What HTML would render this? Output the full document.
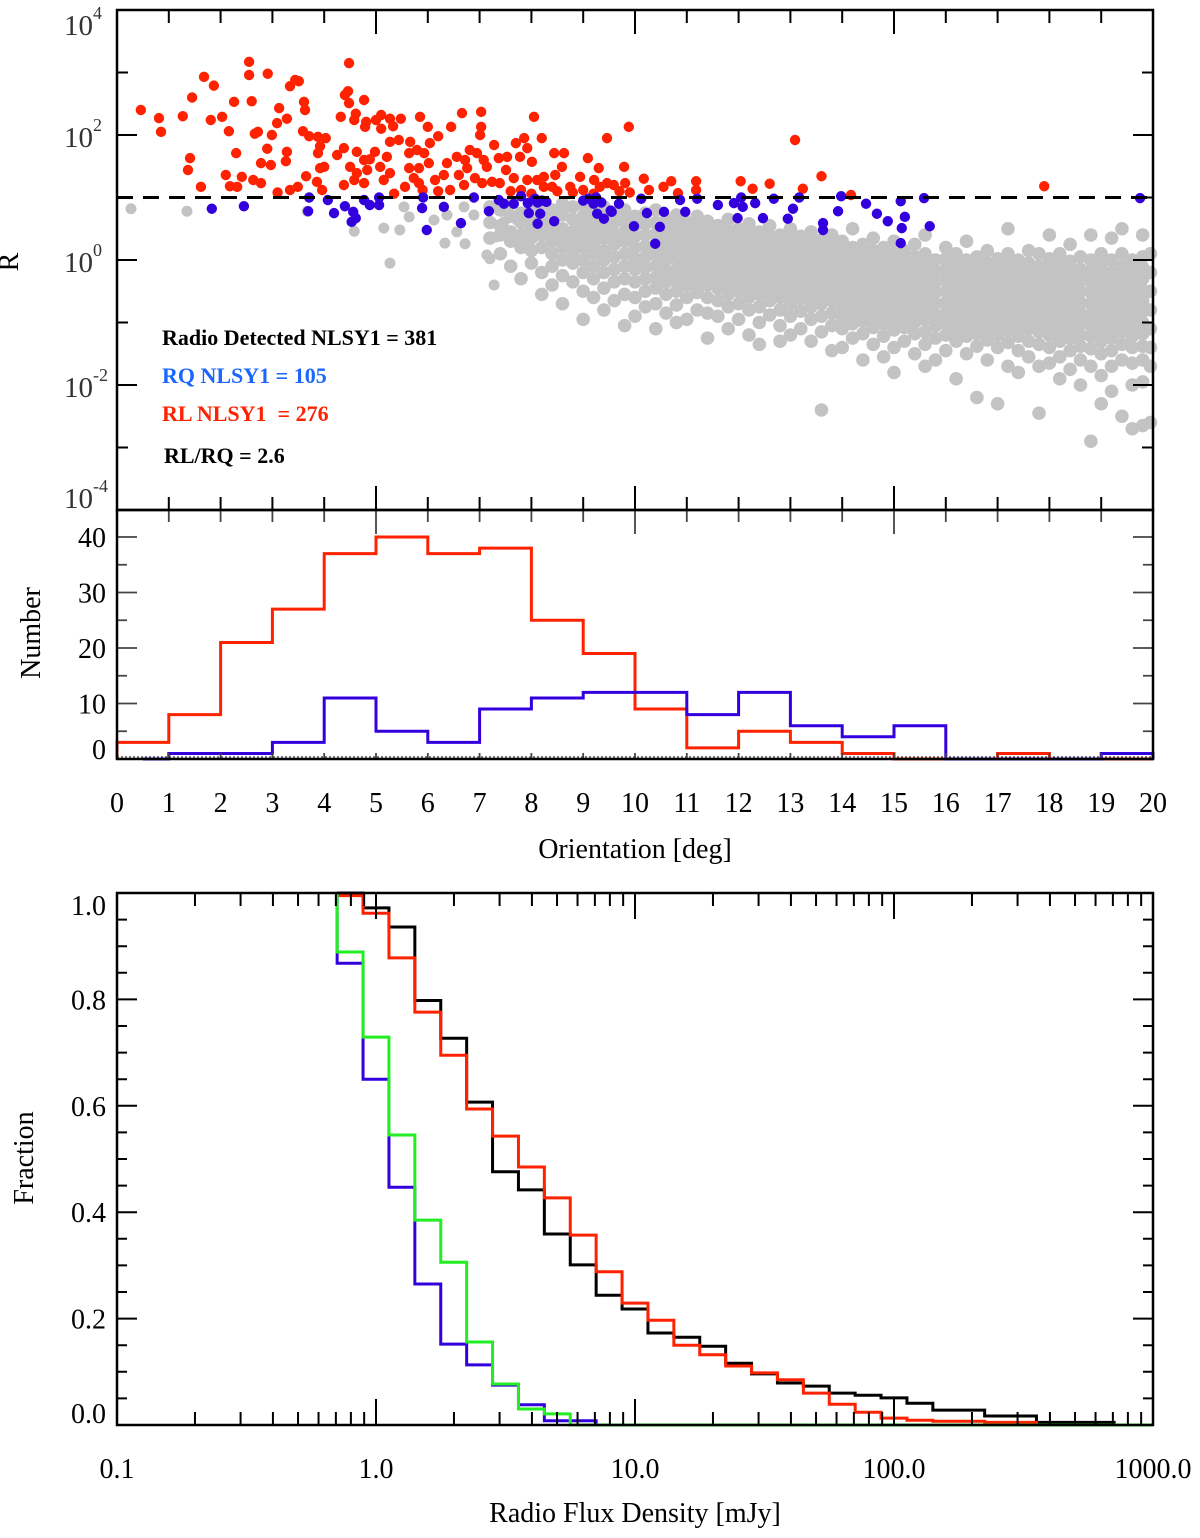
<!DOCTYPE html>
<html><head><meta charset="utf-8">
<style>
html,body{margin:0;padding:0;background:#fff;}
svg{display:block;font-family:"Liberation Serif",serif;}
</style></head>
<body>
<svg id="chart" width="1200" height="1538" viewBox="0 0 1200 1538" xmlns="http://www.w3.org/2000/svg">
<g id="topPanel"></g>
<g id="midPanel"></g>
<g id="botPanel"></g>
<text x="18" y="262" font-size="28" text-anchor="middle" transform="rotate(-90 18 262)">R</text>
<text x="40" y="633" font-size="28" text-anchor="middle" transform="rotate(-90 40 633)">Number</text>
<text x="635" y="858" font-size="28" text-anchor="middle">Orientation [deg]</text>
<text x="33" y="1158" font-size="28" text-anchor="middle" transform="rotate(-90 33 1158)">Fraction</text>
<text x="635" y="1522" font-size="28" text-anchor="middle">Radio Flux Density [mJy]</text>
<g font-weight="bold" font-size="22">
<text x="162" y="345" fill="#000">Radio Detected NLSY1 = 381</text>
<text x="162" y="383" fill="#1a66ff">RQ NLSY1 = 105</text>
<text x="162" y="421" fill="#ff2200" xml:space="preserve">RL NLSY1  = 276</text>
<text x="164" y="463" fill="#000">RL/RQ = 2.6</text>
</g>
</svg>
<script>
// ---------- data: top scatter (orientation deg, log10 R) ----------
const redPts = [[0.46,2.4],[0.81,2.27],[0.85,2.05],[1.27,2.3],[1.45,2.6],[1.68,2.93],[1.87,2.79],[1.81,2.24],[2.03,2.29],[2.16,2.06],[2.26,2.53],[1.41,1.63],[1.37,1.44],[1.62,1.17],[2.1,1.36],[2.18,1.18],[2.32,1.17],[2.3,1.71],[2.41,1.33],[2.55,3.17],[2.55,2.96],[2.6,2.54],[2.91,2.98],[2.63,1.28],[2.78,1.23],[2.78,1.55],[2.66,2.02],[2.72,2.05],[2.9,1.78],[2.97,1.52],[2.99,2.0],[3.09,2.19],[3.13,2.43],[3.28,2.26],[3.28,1.73],[3.26,1.58],[3.34,2.78],[3.44,2.88],[3.51,2.86],[3.61,2.53],[3.63,2.4],[3.59,2.06],[3.71,1.98],[3.34,1.12],[3.49,1.17],[3.65,1.34],[3.88,1.97],[4.03,1.95],[3.92,1.82],[3.88,1.71],[4.0,1.49],[3.92,1.47],[3.86,1.25],[3.96,1.12],[4.48,3.15],[4.46,2.7],[4.4,2.64],[4.48,2.51],[4.32,2.29],[4.58,2.24],[4.61,2.34],[4.77,2.56],[4.81,2.21],[4.79,2.13],[5.0,2.24],[5.1,2.32],[5.1,2.1],[5.27,2.26],[5.33,2.14],[5.48,2.26],[5.85,2.29],[6.0,2.13],[6.2,1.98],[6.04,1.87],[6.45,2.13],[6.66,2.35],[7.03,2.37],[7.03,2.13],[7.01,2.0],[7.28,1.84],[8.05,2.29],[7.86,1.95],[7.7,1.87],[8.2,1.95],[9.46,1.95],[9.88,2.13],[4.38,1.79],[4.25,1.68],[4.63,1.73],[4.77,1.6],[4.88,1.61],[4.98,1.73],[4.5,1.49],[4.63,1.39],[4.83,1.44],[5.08,1.49],[5.21,1.65],[5.27,1.39],[5.15,1.28],[4.77,1.23],[4.58,1.28],[4.38,1.2],[5.27,1.89],[5.44,1.92],[5.66,1.89],[5.64,1.71],[5.79,1.76],[5.93,1.71],[6.02,1.55],[5.83,1.47],[5.64,1.47],[5.73,1.31],[5.56,1.17],[5.83,1.23],[6.14,1.28],[6.31,1.36],[6.37,1.55],[6.56,1.65],[6.72,1.6],[6.81,1.76],[6.95,1.71],[7.08,1.6],[7.14,1.49],[6.76,1.47],[6.6,1.36],[6.7,1.2],[6.43,1.12],[6.91,1.31],[7.05,1.23],[7.24,1.25],[7.39,1.23],[7.37,1.63],[7.53,1.65],[7.51,1.44],[7.66,1.31],[7.78,1.65],[7.92,1.79],[8.01,1.57],[7.92,1.28],[8.11,1.28],[8.24,1.33],[8.44,1.71],[8.63,1.71],[8.59,1.49],[8.46,1.36],[8.4,1.17],[8.24,1.17],[8.75,1.17],[8.94,1.33],[9.09,1.63],[9.21,1.28],[9.3,1.47],[9.32,1.17],[9.46,1.23],[9.59,1.2],[9.79,1.49],[9.81,1.23],[8.5,1.1],[8.8,1.08],[9.0,1.12],[9.2,1.06],[9.7,1.1],[9.9,1.08],[8.0,1.06],[7.6,1.1],[12.04,1.26],[12.6,1.22],[12.27,1.14],[13.24,1.14],[13.6,1.34],[14.17,1.04],[17.9,1.18],[11.18,1.26],[11.18,1.12],[10.7,1.26],[10.55,1.17],[10.27,1.12],[10.17,1.3],[10.83,1.07],[13.09,1.92],[5.9,1.12],[6.2,1.1],[7.8,1.12],[3.1,1.08],[5.35,1.06]];
const bluePts = [[1.83,0.82],[2.45,0.86],[3.71,1.0],[3.69,0.78],[4.07,0.96],[4.19,0.75],[4.4,0.86],[4.56,0.77],[4.61,0.67],[4.53,0.61],[4.77,0.96],[4.88,0.88],[5.06,1.0],[5.06,0.88],[5.91,1.0],[5.89,0.83],[5.98,0.48],[6.31,0.85],[6.64,0.59],[6.89,1.0],[7.18,0.78],[7.37,0.96],[7.47,0.9],[7.66,0.9],[7.8,1.02],[7.93,0.91],[7.95,0.75],[8.07,0.98],[8.12,0.92],[8.2,0.95],[8.29,0.93],[8.17,0.74],[8.12,0.58],[8.44,0.62],[9.0,0.95],[9.1,0.98],[9.2,0.9],[9.35,0.92],[9.27,0.74],[9.4,0.66],[9.55,0.77],[9.98,0.54],[9.25,1.0],[9.53,0.79],[9.69,0.9],[10.12,0.98],[10.23,0.75],[10.39,0.26],[10.48,0.53],[10.56,0.77],[10.87,0.96],[10.97,0.77],[11.2,0.98],[11.6,0.88],[11.91,0.91],[11.98,0.67],[12.08,0.85],[12.05,1.0],[12.32,0.91],[12.47,0.67],[12.68,0.98],[12.95,0.66],[13.05,0.82],[13.17,1.0],[13.63,0.59],[13.63,0.48],[13.92,0.78],[13.98,1.02],[14.46,0.9],[14.67,0.74],[14.88,0.62],[15.13,0.94],[15.21,0.69],[15.15,0.51],[15.13,0.27],[15.58,0.99],[15.69,0.54],[19.75,0.99]];
const grayPts = [[0.27,0.82],[1.35,0.78],[3.67,0.78],[4.58,0.46],[5.15,0.51],[5.46,0.48],[5.27,-0.05],[5.54,0.85],[5.64,0.69],[6.12,0.64],[6.33,0.27],[6.56,0.45],[6.72,0.26],[6.7,0.85],[6.89,0.72],[6.37,0.72],[7.14,0.08],[7.2,0.02],[7.28,-0.4],[7.32,0.37],[7.47,0.61],[7.72,0.64],[7.78,0.37],[7.86,0.24],[7.97,0.53]];
const grayCols = [
[7.2,[0.85,0.6,0.35]],[7.4,[0.8,0.55,0.4,0.1]],[7.6,[0.9,0.7,0.45,0.3,-0.1]],[7.8,[0.75,0.6,0.4,0.2,-0.3]],
[8.0,[0.85,0.65,0.5,0.35,0.15,-0.05]],[8.2,[0.9,0.7,0.55,0.4,0.2,-0.2,-0.55]],[8.4,[0.8,0.6,0.45,0.3,0.1,-0.1,-0.4]],
[8.6,[0.9,0.72,0.5,0.35,0.2,0.0,-0.25,-0.7]],[8.8,[0.85,0.65,0.45,0.3,0.12,-0.05,-0.35]],[9.0,[0.88,0.7,0.55,0.38,0.2,0.0,-0.2,-0.5,-0.95]],
[9.2,[0.8,0.62,0.45,0.28,0.1,-0.1,-0.3,-0.6]],[9.4,[0.85,0.7,0.5,0.35,0.15,0.0,-0.2,-0.45,-0.8]],[9.6,[0.75,0.6,0.42,0.25,0.05,-0.15,-0.35,-0.65]],
[9.8,[0.8,0.62,0.45,0.3,0.1,-0.1,-0.3,-0.55,-1.05]],[10.0,[0.7,0.55,0.38,0.2,0.02,-0.15,-0.35,-0.6,-0.9]],[10.2,[0.75,0.58,0.4,0.22,0.05,-0.12,-0.3,-0.5,-0.75]],
[10.4,[0.8,0.6,0.42,0.25,0.08,-0.1,-0.28,-0.45,-0.7,-1.1]],[10.6,[0.65,0.5,0.32,0.15,0.0,-0.18,-0.35,-0.55,-0.85]],[10.8,[0.72,0.55,0.38,0.2,0.03,-0.15,-0.32,-0.5,-0.72,-1.0]],
[11.0,[0.6,0.45,0.28,0.1,-0.05,-0.22,-0.4,-0.6,-0.95]],[11.2,[0.7,0.52,0.35,0.18,0.0,-0.18,-0.35,-0.52,-0.8]],[11.4,[0.62,0.45,0.28,0.12,-0.05,-0.22,-0.4,-0.6,-0.85,-1.25]],
[11.6,[0.55,0.4,0.22,0.05,-0.1,-0.28,-0.45,-0.65,-0.9]],[11.8,[0.65,0.48,0.3,0.12,-0.05,-0.2,-0.38,-0.55,-0.75,-1.1]],[12.0,[0.5,0.35,0.18,0.02,-0.15,-0.32,-0.5,-0.7,-0.95]],
[12.2,[0.58,0.4,0.25,0.08,-0.08,-0.25,-0.42,-0.6,-0.8,-1.2]],[12.4,[0.45,0.3,0.12,-0.05,-0.2,-0.38,-0.55,-0.75,-1.0,-1.35]],[12.6,[0.55,0.38,0.2,0.03,-0.12,-0.3,-0.48,-0.65,-0.88]],
[12.8,[0.4,0.25,0.08,-0.08,-0.25,-0.42,-0.6,-0.8,-1.05,-1.3]],[13.0,[0.5,0.32,0.15,0.0,-0.18,-0.35,-0.52,-0.7,-0.9,-1.2]],[13.2,[0.38,0.22,0.05,-0.12,-0.28,-0.45,-0.62,-0.82,-1.1]],
[13.4,[0.45,0.28,0.12,-0.05,-0.22,-0.4,-0.58,-0.75,-0.95,-1.3]],[13.6,[0.32,0.15,0.0,-0.18,-0.35,-0.52,-0.7,-0.9,-1.15,-2.4]],[13.8,[0.4,0.22,0.05,-0.12,-0.3,-0.48,-0.65,-0.85,-1.05,-1.45]],
[14.0,[0.3,0.12,-0.05,-0.22,-0.4,-0.58,-0.75,-0.92,-1.1,-1.4]],[14.2,[0.5,0.2,0.02,-0.15,-0.32,-0.5,-0.68,-0.85,-1.02,-1.25]],[14.4,[0.25,0.08,-0.1,-0.28,-0.45,-0.62,-0.8,-0.98,-1.18,-1.6]],
[14.6,[0.35,0.15,-0.02,-0.2,-0.38,-0.55,-0.72,-0.9,-1.08,-1.35]],[14.8,[0.2,0.02,-0.15,-0.32,-0.5,-0.68,-0.85,-1.02,-1.22,-1.55]],[15.0,[0.3,0.1,-0.08,-0.25,-0.42,-0.6,-0.78,-0.95,-1.12,-1.4,-1.8]],
[15.2,[0.15,-0.02,-0.2,-0.38,-0.55,-0.72,-0.9,-1.08,-1.3]],[15.4,[0.25,0.05,-0.12,-0.3,-0.48,-0.65,-0.82,-1.0,-1.18,-1.5]],[15.6,[0.4,0.1,-0.08,-0.25,-0.42,-0.6,-0.78,-0.95,-1.15,-1.35,-1.7]],
[15.8,[0.0,-0.18,-0.35,-0.52,-0.7,-0.88,-1.05,-1.25,-1.6]],[16.0,[0.2,0.02,-0.15,-0.32,-0.5,-0.68,-0.85,-1.02,-1.2,-1.45]],[16.2,[0.1,-0.08,-0.25,-0.42,-0.6,-0.78,-0.95,-1.12,-1.3,-1.9]],
[16.4,[0.3,0.0,-0.18,-0.35,-0.52,-0.7,-0.88,-1.05,-1.22,-1.5]],[16.6,[0.05,-0.12,-0.3,-0.48,-0.65,-0.82,-1.0,-1.18,-1.38,-2.2]],[16.8,[0.15,-0.05,-0.22,-0.4,-0.58,-0.75,-0.92,-1.1,-1.28,-1.6]],
[17.0,[0.02,-0.15,-0.32,-0.5,-0.68,-0.85,-1.02,-1.2,-1.4,-2.3]],[17.2,[0.5,0.1,-0.08,-0.25,-0.42,-0.6,-0.78,-0.95,-1.12,-1.32,-1.7]],[17.4,[0.0,-0.18,-0.35,-0.52,-0.7,-0.88,-1.05,-1.22,-1.45,-1.8]],
[17.6,[0.15,-0.05,-0.22,-0.4,-0.58,-0.75,-0.92,-1.1,-1.3,-1.55]],[17.8,[0.1,-0.1,-0.28,-0.45,-0.62,-0.8,-0.98,-1.15,-1.35,-1.7,-2.45]],[18.0,[0.4,0.02,-0.15,-0.32,-0.5,-0.68,-0.85,-1.02,-1.2,-1.4,-1.65]],
[18.2,[0.1,-0.08,-0.25,-0.42,-0.6,-0.78,-0.95,-1.12,-1.3,-1.55,-1.9]],[18.4,[0.25,-0.02,-0.2,-0.38,-0.55,-0.72,-0.9,-1.08,-1.25,-1.45,-1.75]],[18.6,[0.05,-0.15,-0.32,-0.5,-0.68,-0.85,-1.02,-1.2,-1.38,-1.6,-2.0]],
[18.8,[0.4,0.0,-0.18,-0.35,-0.52,-0.7,-0.88,-1.05,-1.22,-1.42,-1.7,-2.9]],[19.0,[0.1,-0.08,-0.25,-0.42,-0.6,-0.78,-0.95,-1.12,-1.3,-1.5,-1.85,-2.3]],[19.2,[0.35,0.0,-0.2,-0.38,-0.55,-0.72,-0.9,-1.08,-1.25,-1.45,-1.7,-2.1]],
[19.4,[0.5,0.1,-0.1,-0.28,-0.45,-0.62,-0.8,-0.98,-1.15,-1.35,-1.6,-2.5]],[19.6,[0.0,-0.18,-0.35,-0.52,-0.7,-0.88,-1.05,-1.22,-1.4,-1.65,-2.0,-2.7]],[19.8,[0.4,0.05,-0.12,-0.3,-0.48,-0.65,-0.82,-1.0,-1.18,-1.38,-1.6,-1.95,-2.65]],
[19.95,[0.1,-0.2,-0.5,-0.8,-1.1,-1.4,-1.7,-2.6]]];
const rThreshold = 1;
const rTickLabels = ["4","2","0","-2","-4"];
// ---------- data: histogram ----------
const histEdges = [0,1,2,3,4,5,6,7,8,9,10,11,12,13,14,15,16,17,18,19,20];
const redCounts = [3,8,21,27,37,40,37,38,25,19,9,2,5,3,1,0,0,1,0,0];
const blueCounts = [0,1,1,3,11,5,3,9,11,12,12,8,12,6,4,6,0,0,0,1];
const blueStart = 0.5;
const histTicks = ["0","10","20","30","40"];
const degLabels = ["0","1","2","3","4","5","6","7","8","9","10","11","12","13","14","15","16","17","18","19","20"];
// ---------- data: cumulative fractions ----------
const cdfStartLog = -0.15;
const cdfBinWidth = 0.1;
const cdfBlack = [1.0,0.972,0.936,0.798,0.727,0.607,0.476,0.442,0.359,0.301,0.244,0.218,0.173,0.165,0.148,0.116,0.096,0.079,0.073,0.060,0.056,0.051,0.041,0.028,0.028,0.017,0.017,0.005,0.005,0.005];
const cdfRed = [0.995,0.962,0.878,0.776,0.695,0.594,0.543,0.485,0.427,0.357,0.288,0.229,0.197,0.150,0.132,0.111,0.098,0.085,0.060,0.039,0.024,0.013,0.009,0.007,0.007,0.005,0.005];
const cdfBlue = [0.868,0.650,0.447,0.265,0.152,0.113,0.075,0.038,0.008,0.008];
const cdfGreen = [0.889,0.729,0.545,0.385,0.306,0.156,0.077,0.030,0.021];
const fluxLabels = ["0.1","1.0","10.0","100.0","1000.0"];
const fracLabels = ["0.0","0.2","0.4","0.6","0.8","1.0"];

const NS = "http://www.w3.org/2000/svg";
function mk(parent, tag, attrs, txt){
  const e = document.createElementNS(NS, tag);
  for (const k in attrs) e.setAttribute(k, attrs[k]);
  if (txt !== undefined) e.textContent = txt;
  parent.appendChild(e);
  return e;
}
const PL = 117, PR = 1153;
const xDeg = d => PL + (PR - PL) * d / 20;
const T1 = 10, B1 = 510;
const yLogR = v => T1 + (B1 - T1) * (4 - v) / 8;
const T2 = 510, B2 = 759;
const yCount = c => B2 - c * 5.55;
const T3 = 893, B3 = 1425;
const xFlux = lg => PL + (PR - PL) * (lg + 1) / 4;
const yFrac = f => B3 - (B3 - T3) * f;

// ---------- top panel ----------
const topG = document.getElementById('topPanel');
const gGray = mk(topG, 'g', {fill:'#c3c3c3'});


grayPts.forEach(p => {
  const c = mk(gGray, 'circle', {cx:xDeg(p[0]), cy:yLogR(p[1]), r:5.5});
  
  
});
grayCols.forEach(col => col[1].forEach(v => {
  const c = mk(gGray, 'circle', {cx:xDeg(col[0]), cy:yLogR(v), r:6.8});
  
  
}));
const gRed = mk(topG, 'g', {fill:'#ff2200'});


redPts.forEach(p => {
  const c = mk(gRed, 'circle', {cx:xDeg(p[0]), cy:yLogR(p[1]), r:5.2});
  
  
});
const gBlue = mk(topG, 'g', {fill:'#3300dd'});


bluePts.forEach(p => {
  const c = mk(gBlue, 'circle', {cx:xDeg(p[0]), cy:yLogR(p[1]), r:5.2});
  
  
});
const dash = mk(topG, 'line', {x1:PL, x2:PR, y1:yLogR(rThreshold), y2:yLogR(rThreshold), stroke:'#000', 'stroke-width':3, 'stroke-dasharray':'16 10'});


let tk = '';
for (let d = 0; d <= 20; d++) {
  const x = xDeg(d), len = d % 5 === 0 ? 24 : 13;
  tk += `M${x},${T1}v${len}M${x},${B1}v${-len}`;
}
for (let p = -4; p <= 4; p++) {
  const y = yLogR(p), len = p % 2 === 0 ? 20 : 11;
  tk += `M${PL},${y}h${len}M${PR},${y}h${-len}`;
}
const tp = mk(topG, 'path', {d:tk, stroke:'#000', 'stroke-width':2, fill:'none'});


const f1 = mk(topG, 'rect', {x:PL, y:T1, width:PR-PL, height:B1-T1, fill:'none', stroke:'#000', 'stroke-width':2.5});


rTickLabels.forEach(s => {
  const y = yLogR(+s);
  const by = s === "4" ? 35 : (s === "-4" ? 508 : y + 12);
  const t = mk(topG, 'text', {x:64, y:by, 'font-size':29, fill:'#333'}, '10');
  
  
  mk(t, 'tspan', {dy:-16, 'font-size':18}, s);
});

// ---------- middle panel ----------
const midG = document.getElementById('midPanel');
function histPath(edges, counts, start){
  let d = `M${xDeg(start)},${yCount(0)}`;
  counts.forEach((c, i) => {
    d += `V${yCount(c)}H${xDeg(edges[i+1])}`;
  });
  d += `V${yCount(0)}`;
  return d;
}
const zl = mk(midG, 'line', {x1:PL, x2:PR, y1:yCount(0)-2, y2:yCount(0)-2, stroke:'#555', 'stroke-width':1.5, 'stroke-dasharray':'2 2'});


const hr = mk(midG, 'path', {d:histPath(histEdges, redCounts, 0), stroke:'#ff2200', 'stroke-width':3, fill:'none'});


const hb = mk(midG, 'path', {d:histPath(histEdges, blueCounts, blueStart), stroke:'#3300dd', 'stroke-width':3, fill:'none'});


let mk2 = '';
for (let d = 0; d <= 20; d++) {
  const x = xDeg(d), len = d % 5 === 0 ? 24 : 12;
  mk2 += `M${x},${T2}v${len}M${x},${B2}v${-6}`;
}
for (let c = 0; c <= 40; c += 5) {
  const y = yCount(c), len = c % 10 === 0 ? 20 : 10;
  mk2 += `M${PL},${y}h${len}M${PR},${y}h${-len}`;
}
const mp = mk(midG, 'path', {d:mk2, stroke:'#444', 'stroke-width':1.8, fill:'none'});


const f2 = mk(midG, 'rect', {x:PL, y:T2, width:PR-PL, height:B2-T2, fill:'none', stroke:'#000', 'stroke-width':2.5});


histTicks.forEach(s => {
  const t = mk(midG, 'text', {x:106, y:yCount(+s)+(s==="0"?0:10), 'font-size':28, 'text-anchor':'end'}, s);
  
  
});
degLabels.forEach(s => {
  const t = mk(midG, 'text', {x:xDeg(+s), y:812, 'font-size':28, 'text-anchor':'middle'}, s);
  
  
});

// ---------- bottom panel ----------
const botG = document.getElementById('botPanel');
function cdfPath(vals, tail){
  let d = `M${xFlux(cdfStartLog)},${yFrac(1)}`;
  vals.forEach((v, i) => {
    d += `V${yFrac(v)}H${xFlux(cdfStartLog + cdfBinWidth*(i+1))}`;
  });
  d += `V${yFrac(0)}`;
  if (tail) d += `H${xFlux(3)}`;
  return d;
}
const series = [[cdfBlack,'#000','all-cdf',false],[cdfRed,'#ff2200','rl-cdf',false],[cdfBlue,'#3300dd','rq-cdf',false],[cdfGreen,'#22ee22','rq-alt-cdf',true]];
series.forEach(s => {
  const p = mk(botG, 'path', {d:cdfPath(s[0], s[3]), stroke:s[1], 'stroke-width':3, fill:'none'});
  
  
});
let bk = '';
for (let dec = -1; dec <= 3; dec++) {
  for (let m = 1; m <= 9; m++) {
    if (dec === 3 && m > 1) break;
    const x = xFlux(dec + Math.log10(m)), len = m === 1 ? 26 : 13;
    bk += `M${x},${T3}v${len}M${x},${B3}v${-len}`;
  }
}
for (let i = 0; i <= 20; i++) {
  const y = yFrac(i*0.05), len = i % 4 === 0 ? 20 : 10;
  bk += `M${PL},${y}h${len}M${PR},${y}h${-len}`;
}
const bp = mk(botG, 'path', {d:bk, stroke:'#000', 'stroke-width':2, fill:'none'});


const f3 = mk(botG, 'rect', {x:PL, y:T3, width:PR-PL, height:B3-T3, fill:'none', stroke:'#000', 'stroke-width':2.5});


fracLabels.forEach(s => {
  const t = mk(botG, 'text', {x:106, y:yFrac(+s)+(s==="0.0"?-2:(s==="1.0"?22:10)), 'font-size':28, 'text-anchor':'end'}, s);
  
  
});
fluxLabels.forEach((s, i) => {
  const t = mk(botG, 'text', {x:xFlux(i-1), y:1478, 'font-size':28, 'text-anchor':'middle'}, s);
  
  
});
</script>
</body></html>
